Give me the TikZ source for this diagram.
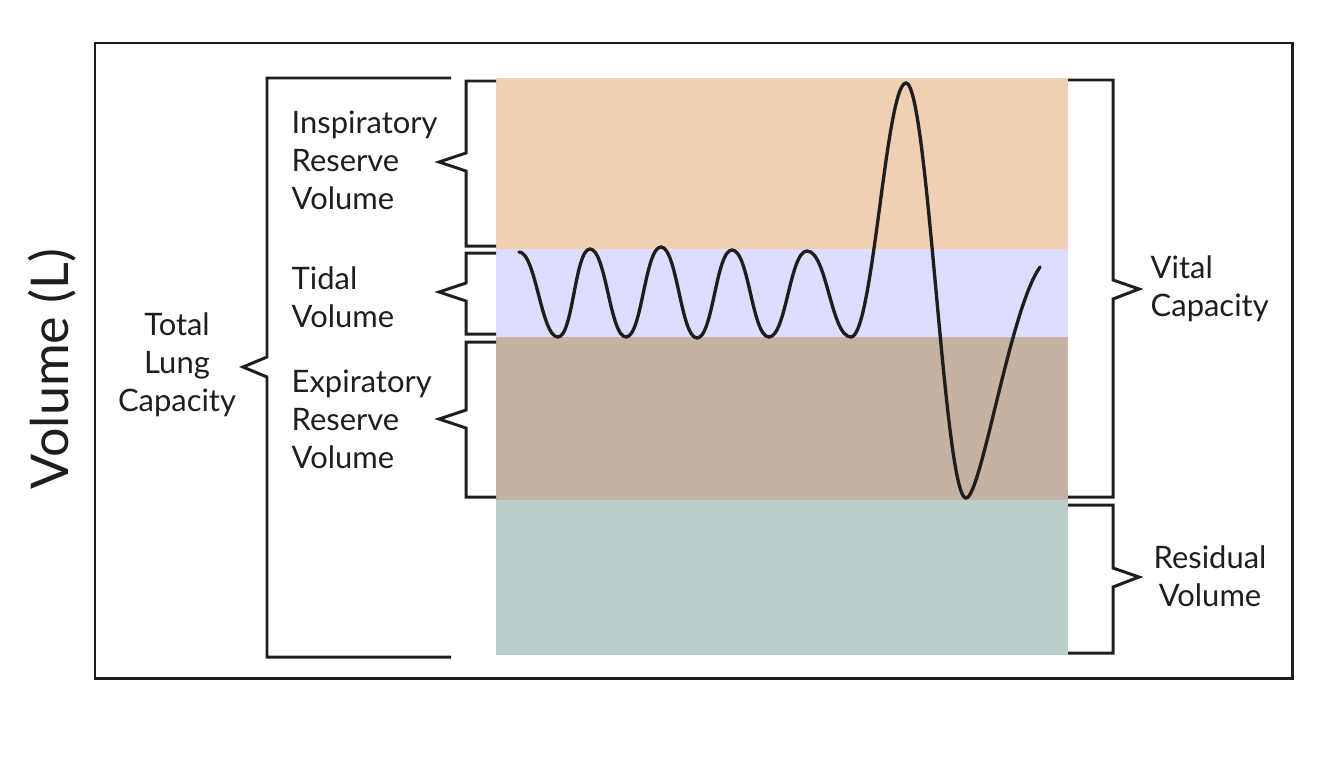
\documentclass[tikz,border=0pt]{standalone}
\usepackage{fontspec}
\setmainfont{Lato}
\usetikzlibrary{positioning}
\definecolor{irvorange}{RGB}{239, 208, 178}
\definecolor{tidalblue}{RGB}{221, 221, 255}
\definecolor{ervbrown}{RGB}{197, 178, 163}
\definecolor{rvgreen}{RGB}{187, 206, 203}
\definecolor{inkblack}{RGB}{30, 30, 30}
\tikzset{
    band/.style={rectangle, minimum width=5.72cm, inner sep=0pt, outer sep=0pt, draw=none},
    irvband/.style={band, fill=irvorange, minimum height=1.71cm},
    tidalband/.style={band, fill=tidalblue, minimum height=0.88cm},
    ervband/.style={band, fill=ervbrown, minimum height=1.63cm},
    rvband/.style={band, fill=rvgreen, minimum height=1.55cm},
    bracketline/.style={draw=inkblack, line width=0.85pt},
    breathline/.style={draw=inkblack, line width=0.95pt, line cap=round},
    volumetext/.style={font=\fontsize{8.8}{10.8}\selectfont, text=inkblack, align=left, inner sep=0pt},
    axistext/.style={font=\fontsize{14.8}{17}\selectfont, text=inkblack, inner sep=0pt},
}
\begin{document}
\begin{tikzpicture}
                \useasboundingbox (0,0) rectangle (13.34,-7.56);
                % Outer frame
                \draw[bracketline] (0.95,-0.43) rectangle (12.92,-6.78);
                
                % Volume bands
                \node[irvband, anchor=north west] (irv) at (4.96,-0.78) {};
                \node[tidalband, below=0pt of irv] (tidal) {};
                \node[ervband, below=0pt of tidal] (erv) {};
                \node[rvband, below=0pt of erv] (rv) {};
                
                % Spirometer trace
                \draw[breathline] (5.19,-2.52)
                      .. controls +(0.17,0) and +(-0.17,0) .. (5.58,-3.37)
                      .. controls +(0.15,0) and +(-0.15,0) .. (5.90,-2.49)
                      .. controls +(0.16,0) and +(-0.16,0) .. (6.26,-3.37)
                      .. controls +(0.16,0) and +(-0.16,0) .. (6.61,-2.47)
                      .. controls +(0.16,0) and +(-0.16,0) .. (6.97,-3.38)
                      .. controls +(0.16,0) and +(-0.16,0) .. (7.32,-2.50)
                      .. controls +(0.17,0) and +(-0.17,0) .. (7.69,-3.37)
                      .. controls +(0.17,0) and +(-0.17,0) .. (8.07,-2.51)
                      .. controls +(0.2,0) and +(-0.2,0) .. (8.51,-3.37)
                      .. controls +(0.22,0) and +(-0.2,0) .. (9.06,-0.83)
                      .. controls +(0.22,0) and +(-0.22,0) .. (9.66,-4.98)
                      .. controls +(0.15,0) and +(-0.3,-0.42) .. (10.40,-2.67);
                
                % Left brackets
                \draw[bracketline] (4.96,-0.81) -- (4.66,-0.81) -- (4.66,-1.53) -- (4.39,-1.62)
                      -- (4.66,-1.71) -- (4.66,-2.46) -- (4.96,-2.46);
                \draw[bracketline] (4.96,-2.53) -- (4.66,-2.53) -- (4.66,-2.83) -- (4.39,-2.92)
                      -- (4.66,-3.01) -- (4.66,-3.34) -- (4.96,-3.34);
                \draw[bracketline] (4.96,-3.42) -- (4.66,-3.42) -- (4.66,-4.10) -- (4.39,-4.19)
                      -- (4.66,-4.28) -- (4.66,-4.97) -- (4.96,-4.97);
                \draw[bracketline] (4.51,-0.78) -- (2.67,-0.78) -- (2.67,-3.57) -- (2.43,-3.67)
                      -- (2.67,-3.77) -- (2.67,-6.57) -- (4.51,-6.57);
                
                % Right brackets
                \draw[bracketline] (10.68,-0.80) -- (11.13,-0.80) -- (11.13,-2.80) -- (11.39,-2.89)
                      -- (11.13,-2.99) -- (11.13,-4.97) -- (10.68,-4.97);
                \draw[bracketline] (10.68,-5.05) -- (11.13,-5.05) -- (11.13,-5.68) -- (11.39,-5.77)
                      -- (11.13,-5.87) -- (11.13,-6.53) -- (10.68,-6.53);
                
                % Labels
                \node[volumetext, anchor=west] (irvlabel) at (2.91,-1.60) {Inspiratory\\Reserve\\Volume};
                \node[volumetext, anchor=west] (tidallabel) at (2.91,-2.97) {Tidal\\Volume};
                \node[volumetext, anchor=west] (ervlabel) at (2.91,-4.19) {Expiratory\\Reserve\\Volume};
                \node[volumetext, align=center] (tlclabel) at (1.77,-3.65) {Total\\Lung\\Capacity};
                \node[volumetext, anchor=west] (vclabel) at (11.50,-2.89) {Vital\\Capacity};
                \node[volumetext, align=center] (rvlabel) at (12.10,-5.76) {Residual\\Volume};
                \node[axistext, rotate=90] (axislabel) at (0.52,-3.69) {Volume (L)};
            \end{tikzpicture}
\end{document}
